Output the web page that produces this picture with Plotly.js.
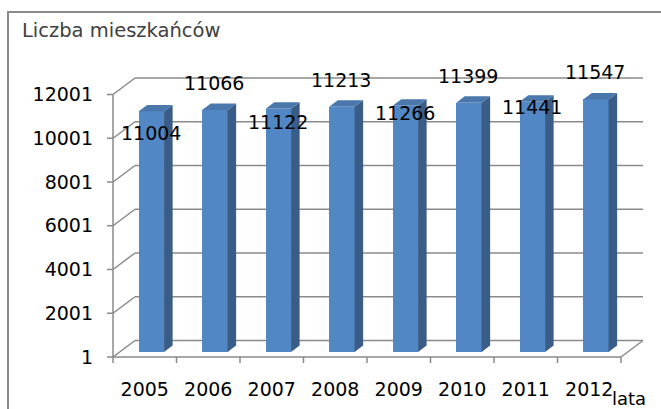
<!DOCTYPE html>
<html>
<head>
<meta charset="utf-8">
<script src="https://cdn.plot.ly/plotly-3.0.1.min.js"></script>
<style>
  html, body { margin: 0; padding: 0; background: #ffffff; overflow: hidden; }
  #wrap { position: relative; width: 661px; height: 409px; }
  #chart { width: 661px; height: 409px; }
  #frame { position: absolute; left: 7px; top: 11px; width: 700px; height: 500px;
           border: 2px solid #8a8a8a; pointer-events: none; box-sizing: border-box; }
</style>
</head>
<body>
<div id="wrap">
  <div id="chart"></div>
  <div id="frame"></div>
</div>
<script>
// ---- data ----
const years = ['2005', '2006', '2007', '2008', '2009', '2010', '2011', '2012'];
const population = [11004, 11066, 11122, 11213, 11266, 11399, 11441, 11547];
const yTicks = [1, 2001, 4001, 6001, 8001, 10001, 12001];
const chartTitle = 'Liczba mieszkańców';
const xTitle = 'lata';

// ---- layout geometry (pseudo-3D look) ----
const W = 661, H = 409;
const M = { l: 104, r: 8, t: 62, b: 39 };
const FRONT_X0 = 113, BASE_PX = 357;     // pixel of front corner (x=0, value=1)
const SX = 63.5, SY = 0.021875;          // px per category, px per value
const DX = 22 / SX, DY = 16.5 / SY;      // depth vector of the box
const F0 = 0.30, FD = 0.39;              // bar front depth fraction, bar depth
const BW = 0.40;                         // bar width (category units)
const LABEL_YSHIFT = [-17, 32, -8, 32, -2, 32, 0, 32];
const LABEL_XSHIFT = 6;

const GRID = '#8a8a8a', FRONT = '#5087c4', SIDE = '#3a5d88', TOP = '#4a77ac';
const FONT = { family: 'DejaVu Sans, sans-serif', size: 19, color: '#000000' };

const xr = [(M.l - FRONT_X0) / SX, (W - M.r - FRONT_X0) / SX];
const yr = [1 - (H - M.b - BASE_PX) / SY, 1 + (BASE_PX - M.t) / SY];
const nCat = years.length;
const pos = years.map((_, i) => i + 0.5);
const y0 = yTicks[0];

// ---- traces ----
const traces = [];
traces.push({
  type: 'bar', x: pos.map(p => p + F0 * DX), y: population.map(v => v - y0),
  base: y0 + F0 * DY, width: BW, marker: { color: FRONT, line: { width: 0 } },
  hoverinfo: 'skip', showlegend: false
});
population.forEach((v, i) => {
  const xl = pos[i] + F0 * DX - BW / 2, xrgt = pos[i] + F0 * DX + BW / 2;
  const yb = y0 + F0 * DY, yt = v + F0 * DY;
  const ddx = FD * DX, ddy = FD * DY;
  traces.push({
    type: 'scatter', mode: 'lines', fill: 'toself', fillcolor: SIDE,
    x: [xrgt, xrgt + ddx, xrgt + ddx, xrgt, xrgt],
    y: [yb, yb + ddy, yt + ddy, yt, yb],
    line: { width: 0, color: SIDE }, hoverinfo: 'skip', showlegend: false
  });
  traces.push({
    type: 'scatter', mode: 'lines', fill: 'toself', fillcolor: TOP,
    x: [xl, xrgt, xrgt + ddx, xl + ddx, xl],
    y: [yt, yt, yt + ddy, yt + ddy, yt],
    line: { width: 0, color: TOP }, hoverinfo: 'skip', showlegend: false
  });
});

// ---- box lines, gridlines and ticks (shapes below traces) ----
const shapes = [];
function seg(x0, ya, x1, yb) {
  shapes.push({ type: 'line', xref: 'x', yref: 'y', x0: x0, y0: ya, x1: x1, y1: yb,
                layer: 'below', line: { color: GRID, width: 1.5 } });
}
yTicks.forEach(v => {
  seg(0, v, DX, v + DY);                    // side wall diagonal
  seg(DX, v + DY, nCat + DX, v + DY);       // back wall line
  seg(0, v, -6 / SX, v);                    // tick mark
});
seg(nCat, y0, nCat + DX, y0 + DY);          // floor right edge
seg(0, y0, nCat, y0);                       // front floor edge (category axis)
seg(0, y0, 0, yTicks[yTicks.length - 1]);   // value axis
for (let k = 0; k <= nCat; k++) seg(k, y0, k, y0 - 6 / SY);

// ---- annotations: data labels + axis title ----
const annotations = population.map((v, i) => ({
  xref: 'x', yref: 'y', x: pos[i], y: v, text: String(v), showarrow: false,
  xshift: LABEL_XSHIFT, yshift: LABEL_YSHIFT[i], font: FONT,
  xanchor: 'center', yanchor: 'middle'
}));
annotations.push({
  xref: 'x', yref: 'y', x: nCat, y: y0, text: xTitle, showarrow: false,
  xanchor: 'left', yanchor: 'top', xshift: -11, yshift: -29,
  font: { family: FONT.family, size: 18, color: FONT.color }
});

const layout = {
  width: W, height: H, autosize: false, margin: M,
  paper_bgcolor: 'rgba(0,0,0,0)', plot_bgcolor: 'rgba(0,0,0,0)',
  showlegend: false, bargap: 0,
  title: {
    text: chartTitle, xref: 'container', yref: 'container',
    x: 22 / W, xanchor: 'left', y: 1 - 30 / H, yanchor: 'middle',
    font: { family: 'DejaVu Sans, sans-serif', size: 19.5, color: '#404040' }
  },
  xaxis: {
    range: xr, tickvals: pos, ticktext: years, ticks: '', showgrid: false,
    zeroline: false, showline: false, tickfont: FONT, ticklabelstandoff: 6,
    fixedrange: true
  },
  yaxis: {
    range: yr, tickvals: yTicks, ticktext: yTicks.map(String), ticks: '',
    showgrid: false, zeroline: false, showline: false, tickfont: FONT,
    ticklabelstandoff: 10, fixedrange: true
  },
  shapes: shapes,
  annotations: annotations
};

Plotly.newPlot('chart', traces, layout, { displayModeBar: false, staticPlot: true });
</script>
</body>
</html>
